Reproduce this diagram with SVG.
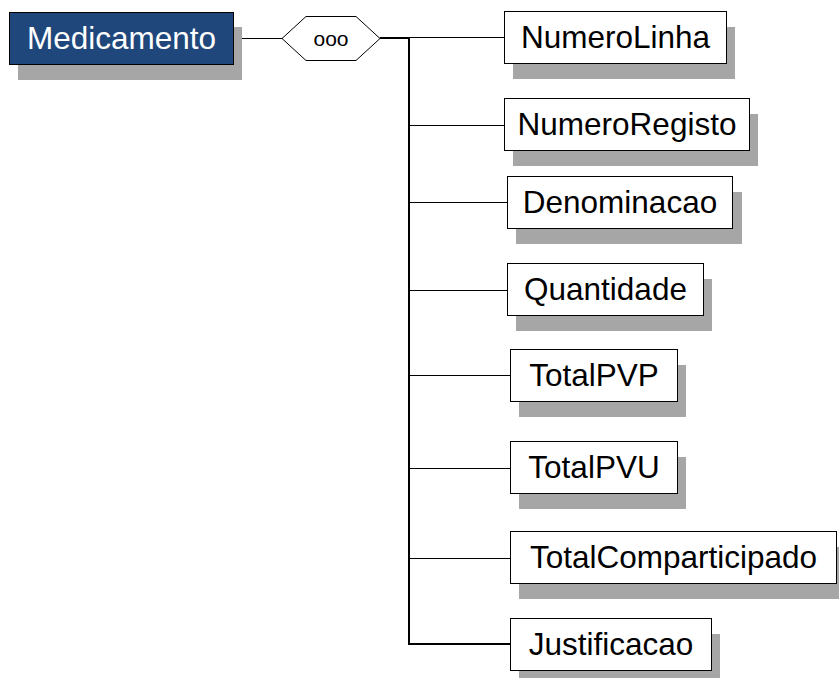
<svg xmlns="http://www.w3.org/2000/svg" width="839" height="678" viewBox="0 0 839 678">
<style>
.sh{fill:#a6a6a6}
.box{fill:#fff;stroke:#000;stroke-width:1}
.root{fill:#1f477b;stroke:#000;stroke-width:1}
.t{font-family:"Liberation Sans",Arial,sans-serif;font-size:31.5px;text-anchor:middle;fill:#000}
.tw{fill:#fff}
.ln{stroke:#000;stroke-width:1;fill:none}
.lnb{stroke:#000;stroke-width:2;fill:none}
</style>
<rect width="839" height="678" fill="#fff"/>
<g id="connectors">
<line class="ln" x1="233" y1="38.5" x2="282" y2="38.5"/>
<line class="lnb" x1="380" y1="38" x2="409" y2="38"/>
<line class="lnb" x1="409" y1="37" x2="409" y2="645"/>
<line class="ln" x1="409" y1="37.5" x2="504" y2="37.5"/>
<line class="ln" x1="409" y1="125.5" x2="504" y2="125.5"/>
<line class="ln" x1="409" y1="202.5" x2="507" y2="202.5"/>
<line class="ln" x1="409" y1="290.5" x2="507" y2="290.5"/>
<line class="ln" x1="409" y1="375.5" x2="510" y2="375.5"/>
<line class="ln" x1="409" y1="468.5" x2="510" y2="468.5"/>
<line class="ln" x1="409" y1="558.5" x2="510" y2="558.5"/>
<line class="lnb" x1="408" y1="644" x2="510" y2="644"/>
</g>
<g id="Medicamento">
<rect class="sh" x="18" y="27" width="224" height="53"/>
<rect class="root" x="9.5" y="12.5" width="224" height="52"/>
<text class="t tw" x="121.5" y="49">Medicamento</text>
</g>
<g id="sequence">
<polygon points="282,38.5 306,16.5 356,16.5 380,38.5 356,60.5 306,60.5" fill="#fff" stroke="#000" stroke-width="1"/>
<text x="331" y="45.5" font-family="'Liberation Sans',Arial,sans-serif" font-size="21" text-anchor="middle">ooo</text>
</g>
<g id="NumeroLinha">
<rect class="sh" x="513" y="27" width="222" height="52"/>
<rect class="box" x="504.5" y="11.5" width="222" height="52"/>
<text class="t" x="615.5" y="48">NumeroLinha</text>
</g>
<g id="NumeroRegisto">
<rect class="sh" x="513" y="114" width="245" height="52"/>
<rect class="box" x="504.5" y="98.5" width="245" height="52"/>
<text class="t" x="627" y="135">NumeroRegisto</text>
</g>
<g id="Denominacao">
<rect class="sh" x="516" y="192" width="226" height="52"/>
<rect class="box" x="507.5" y="176.5" width="225" height="52"/>
<text class="t" x="620" y="213">Denominacao</text>
</g>
<g id="Quantidade">
<rect class="sh" x="516" y="279" width="196" height="52"/>
<rect class="box" x="507.5" y="263.5" width="196" height="52"/>
<text class="t" x="605.5" y="300">Quantidade</text>
</g>
<g id="TotalPVP">
<rect class="sh" x="519" y="365" width="167" height="52"/>
<rect class="box" x="510.5" y="349.5" width="167" height="52"/>
<text class="t" x="594" y="386">TotalPVP</text>
</g>
<g id="TotalPVU">
<rect class="sh" x="519" y="457" width="167" height="52"/>
<rect class="box" x="510.5" y="441.5" width="167" height="52"/>
<text class="t" x="594" y="478">TotalPVU</text>
</g>
<g id="TotalComparticipado">
<rect class="sh" x="519" y="547" width="327" height="52"/>
<rect class="box" x="510.5" y="531.5" width="326" height="52"/>
<text class="t" x="673.5" y="568">TotalComparticipado</text>
</g>
<g id="Justificacao">
<rect class="sh" x="519" y="634" width="201" height="52"/>
<rect class="box" x="510.5" y="618.5" width="201" height="52"/>
<text class="t" x="611" y="655">Justificacao</text>
</g>
</svg>
